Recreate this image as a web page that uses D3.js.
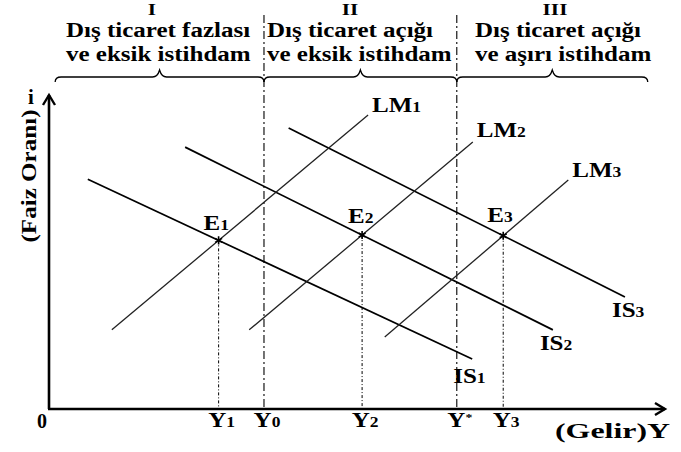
<!DOCTYPE html>
<html lang="tr">
<head>
<meta charset="utf-8">
<title>IS-LM dış ticaret ve istihdam</title>
<script src="https://cdn.jsdelivr.net/npm/d3@7"></script>
<style>
body { margin: 0; background: #fff; }
text { font-family: "Liberation Serif", "Times New Roman", serif; font-weight: bold; fill: #000; }
</style>
</head>
<body>
<script>
// curves as [x0, y0, x1, y1] in chart units (0-100 on both axes)
var isNames = ["IS1", "IS2", "IS3"];
var isLines = [[6.3, 73.2, 68.7, 15.9], [22.1, 83.4, 81.8, 25.2], [38.9, 89.5, 93.5, 35.7]];
var lmNames = ["LM1", "LM2", "LM3"];
var lmLines = [[10.2, 25.2, 51.8, 93.6], [32.5, 25.2, 68.8, 85.0], [54.5, 22.9, 84.3, 72.9]];
var eqNames = ["E1", "E2", "E3"];
var eqIncome = ["Y1", "Y2", "Y3"];
var bounds = [34.9, 66.2];          // Y0 and Y*
var boundNames = ["Y0", "Y*"];
var sectionEdges = [1.0, 34.9, 66.2, 97.2];
var sectionNum = ["I", "II", "III"];
var sectionText = [["Dış ticaret fazlası", "ve eksik istihdam"],
                   ["Dış ticaret açığı", "ve eksik istihdam"],
                   ["Dış ticaret açığı", "ve aşırı istihdam"]];
var textLeft = [66, 267, 475], numCenter = [152, 350, 555];

var W = 681, H = 452;
var svg = d3.select("body").append("svg").attr("width", W).attr("height", H);

var x = d3.scaleLinear().domain([0, 100]).range([49, 665]);
var y = d3.scaleLinear().domain([0, 100]).range([409, 95]);
var topY = 15, braceY = 77;

function label(px, py, s, anchor, size) {
  var main = s, sub = null;
  if (s.length > 1 && /[0-9*]$/.test(s)) { main = s.slice(0, -1); sub = s.slice(-1); }
  var t = svg.append("text")
    .attr("transform", "translate(" + px + "," + py + ") scale(1.25,1)")
    .attr("text-anchor", anchor || "start")
    .style("font-size", (size || 20) + "px");
  t.append("tspan").text(main);
  if (sub == "*") t.append("tspan").attr("dy", -6).style("font-size", "11px").text(sub);
  else if (sub) t.append("tspan").style("font-size", "14px").text(sub);
  return t;
}

function intersect(a, b) {
  var m1 = (a[3] - a[1]) / (a[2] - a[0]), m2 = (b[3] - b[1]) / (b[2] - b[0]);
  var xi = (b[1] - a[1] + m1 * a[0] - m2 * b[0]) / (m1 - m2);
  return [xi, a[1] + m1 * (xi - a[0])];
}
var eqPoints = isLines.map(function(d, i) { return intersect(d, lmLines[i]); });

// section boundaries Y0, Y*
svg.selectAll(".bound").data(bounds).enter().append("line")
  .attr("x1", d => x(d)).attr("x2", d => x(d))
  .attr("y1", topY).attr("y2", y(0))
  .attr("stroke", "#000").attr("stroke-width", 1.1)
  .attr("stroke-dasharray", "8,3,2,3");

// dotted drops from equilibria
svg.selectAll(".drop").data(eqPoints).enter().append("line")
  .attr("x1", d => x(d[0])).attr("x2", d => x(d[0]))
  .attr("y1", d => y(d[1])).attr("y2", y(0))
  .attr("stroke", "#000").attr("stroke-width", 1)
  .attr("stroke-dasharray", "3,2,1,2");

// IS and LM curves
svg.selectAll(".is").data(isLines).enter().append("line")
  .attr("x1", d => x(d[0])).attr("y1", d => y(d[1]))
  .attr("x2", d => x(d[2])).attr("y2", d => y(d[3]))
  .attr("stroke", "#000").attr("stroke-width", 1.7);
svg.selectAll(".lm").data(lmLines).enter().append("line")
  .attr("x1", d => x(d[0])).attr("y1", d => y(d[1]))
  .attr("x2", d => x(d[2])).attr("y2", d => y(d[3]))
  .attr("stroke", "#222").attr("stroke-width", 1.3);

// equilibrium markers
svg.selectAll(".eq").data(eqPoints).enter().append("path")
  .attr("transform", d => "translate(" + x(d[0]) + "," + y(d[1]) + ")")
  .attr("d", d3.symbol().type(d3.symbolAsterisk).size(45))
  .attr("fill", "none").attr("stroke", "#000").attr("stroke-width", 1.6);

// axes
svg.append("line").attr("x1", x(0)).attr("y1", y(0)).attr("x2", x(0)).attr("y2", y(100))
  .attr("stroke", "#000").attr("stroke-width", 2.6);
svg.append("line").attr("x1", x(0) - 1).attr("y1", y(0)).attr("x2", x(100)).attr("y2", y(0))
  .attr("stroke", "#000").attr("stroke-width", 2.6);
svg.append("path")
  .attr("d", "M" + (x(0) - 6) + "," + (y(100) + 10) + "L" + x(0) + "," + y(100) + "L" + (x(0) + 6) + "," + (y(100) + 10))
  .attr("fill", "none").attr("stroke", "#000").attr("stroke-width", 2.4);
svg.append("path")
  .attr("d", "M" + (x(100) - 10) + "," + (y(0) - 6) + "L" + x(100) + "," + y(0) + "L" + (x(100) - 10) + "," + (y(0) + 6))
  .attr("fill", "none").attr("stroke", "#000").attr("stroke-width", 2.4);

// braces above each section
function brace(x0, x1, yb) {
  var xm = (x0 + x1) / 2;
  return "M" + x0 + "," + (yb + 5) + "Q" + x0 + "," + yb + " " + (x0 + 6) + "," + yb +
    "L" + (xm - 7) + "," + yb + "Q" + (xm - 2) + "," + yb + " " + xm + "," + (yb - 7) +
    "Q" + (xm + 2) + "," + yb + " " + (xm + 7) + "," + yb +
    "L" + (x1 - 6) + "," + yb + "Q" + x1 + "," + yb + " " + x1 + "," + (yb + 5);
}
sectionNum.forEach(function(n, i) {
  svg.append("path").attr("d", brace(x(sectionEdges[i]), x(sectionEdges[i + 1]), braceY))
    .attr("fill", "none").attr("stroke", "#000").attr("stroke-width", 1.3);
  label(numCenter[i], 15, n, "middle", 17);
  label(textLeft[i], 37, sectionText[i][0]);
  label(textLeft[i], 61, sectionText[i][1]);
});

// curve labels
var lmOff = [[4, -3], [4, -5], [4, -3]];
lmLines.forEach(function(d, i) { label(x(d[2]) + lmOff[i][0], y(d[3]) + lmOff[i][1], lmNames[i]); });
var isOff = [[-19, 24], [-13, 20], [-13, 20]];
isLines.forEach(function(d, i) { label(x(d[2]) + isOff[i][0], y(d[3]) + isOff[i][1], isNames[i]); });
var eqOff = [[-15, -10], [-14, -12], [-16, -14]];
eqPoints.forEach(function(d, i) { label(x(d[0]) + eqOff[i][0], y(d[1]) + eqOff[i][1], eqNames[i]); });

// income labels on the axis
eqPoints.forEach(function(d, i) { label(x(d[0]) + 3, 427, eqIncome[i], "middle"); });
bounds.forEach(function(d, i) { label(x(d) + 3, 427, boundNames[i], "middle"); });

// axis titles
svg.append("text").attr("x", 42).attr("y", 428).attr("text-anchor", "middle")
  .style("font-size", "20px").text("0");
svg.append("text").attr("x", 31).attr("y", 104).attr("text-anchor", "middle")
  .style("font-size", "21px").text("i");
svg.append("text").attr("x", 555).attr("y", 438)
  .attr("textLength", 115).attr("lengthAdjust", "spacingAndGlyphs")
  .style("font-size", "21px").text("(Gelir)Y");
svg.append("text").attr("transform", "translate(36,176) rotate(-90)")
  .attr("text-anchor", "middle")
  .attr("textLength", 133).attr("lengthAdjust", "spacingAndGlyphs")
  .style("font-size", "22px").text("(Faiz Oranı)");
</script>
</body>
</html>
